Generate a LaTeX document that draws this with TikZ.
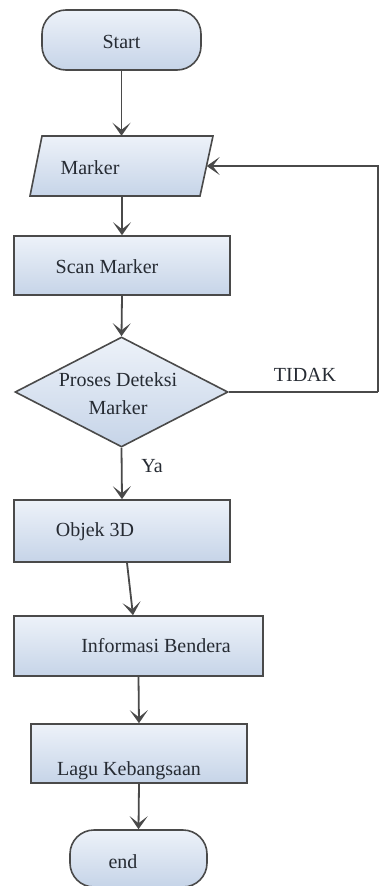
\documentclass[tikz,border=0pt]{standalone}
\usepackage{fontspec}
\setmainfont{Liberation Serif}
\newfontfamily\flowfont{Liberation Serif}
\usetikzlibrary{shapes.geometric,arrows.meta}
\definecolor{edge}{HTML}{4A4A4A}
\definecolor{boxtop}{HTML}{EDF2F9}
\definecolor{boxbot}{HTML}{C6D4E8}
\definecolor{ink}{HTML}{262B33}
\begin{document}
\begin{tikzpicture}[x=1pt,y=-1pt,
  box/.style={draw=edge, line width=1.6pt, top color=boxtop, bottom color=boxbot, inner sep=0pt},
  proc/.style={box, rectangle},
  term/.style={box, rectangle, rounded corners=24pt},
  lbl/.style={font=\flowfont\fontsize{20}{24}\selectfont, text=ink, inner sep=0pt},
  tip/.style={-{Stealth[length=13pt,width=18pt,inset=7pt]}},
  flow/.style={draw=edge, line width=1.8pt, tip},
  thin/.style={draw=edge, line width=1.1pt}]
\useasboundingbox (0,0) rectangle (381,886);

% shapes
\node[term, minimum width=159pt, minimum height=60pt] (start) at (121.5,40) {};
% input parallelogram: outline drawn as a path, anchors from an invisible node
\path[box] (42,136) -- (213,136) -- (200,196) -- (30,196) -- cycle;
\node[rectangle, inner sep=0pt, minimum width=170pt, minimum height=60pt] (marker) at (121.5,166) {};
\node[proc, minimum width=216pt, minimum height=59pt] (scan) at (122,265.5) {};
\node[box, diamond, minimum width=213pt, minimum height=110pt] (dec) at (121.5,392) {};
\node[proc, minimum width=216pt, minimum height=62pt] (obj) at (122,531) {};
\node[proc, minimum width=249pt, minimum height=60pt] (info) at (138.5,646) {};
\node[proc, minimum width=216pt, minimum height=59pt] (lagu) at (139,753.5) {};
\node[term, minimum width=137pt, minimum height=57pt] (end) at (138.5,858.5) {};

% texts
\node[lbl] (startT) at (121.5,42) {Start};
\node[lbl] (markerT) at (90,168) {Marker};
\node[lbl] (scanT) at (107,267) {Scan Marker};
\node[lbl] (decT1) at (118,380) {Proses Deteksi};
\node[lbl] (decT2) at (118,408) {Marker};
\node[lbl] (objT) at (95,532) {Objek 3D};
\node[lbl] (infoT) at (156,646) {Informasi Bendera};
\node[lbl] (laguT) at (129,771) {Lagu Kebangsaan};
\node[lbl] (endT) at (123,862) {end};
\node[lbl] (tidak) at (305,375) {TIDAK};
\node[lbl] (ya) at (152,466) {Ya};

% connectors
\coordinate (loop) at (378,392);
\draw[flow] (start.south) -- (start.south |- marker.north);
\draw[flow] (marker.south -| scan.north) -- (scan.north);
\draw[flow] (scan.south) -- (dec.north);
\draw[flow] (dec.south) -- (obj.north);
\draw[flow] ([xshift=5pt]obj.south) -- ([xshift=-5.5pt]info.north);
\draw[flow] (info.south) -- (lagu.north);
\draw[flow] (lagu.south) -- (end.north);
\draw[thin] (dec.east) -- (loop);
\draw[thin, tip] (loop) |- (marker.east);
\end{tikzpicture}
\end{document}
